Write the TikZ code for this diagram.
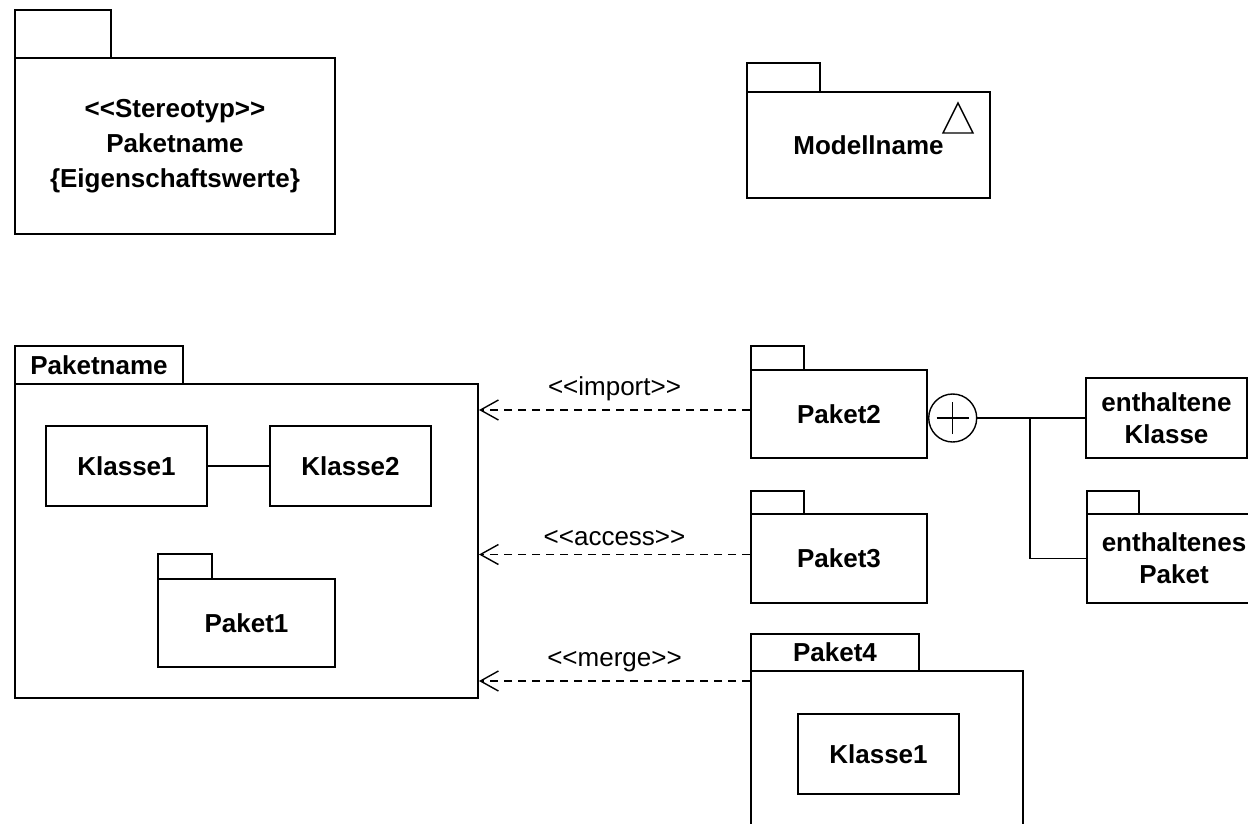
\documentclass[tikz,border=0pt]{standalone}
\usepackage{fontspec}
\setmainfont{Liberation Sans}
\usetikzlibrary{arrows.meta}

\begin{document}
\begin{tikzpicture}[x=0.5pt,y=-0.5pt,
  box/.style={draw,line width=1pt,anchor=north west,inner sep=0pt,align=center,
    font=\fontsize{13}{17.5}\selectfont\bfseries},
  dep/.style={line width=0.7pt,dash pattern=on 4pt off 3pt,
    -{Straight Barb[length=9pt,width=10pt,line width=0.7pt]}},
  lbl/.style={midway,above=2pt,inner sep=2pt,font=\fontsize{13}{15}\selectfont}]
	\useasboundingbox (0,0) rectangle (1248,824);
	\clip (0,0) rectangle (1248,824);
	% Paket mit Stereotyp
	\node[box,minimum width=48pt,minimum height=24pt] (sttab) at (14,9) {};
	\node[box,minimum width=160pt,minimum height=88pt] (stereo) at (14,57)
	  {<{}<Stereotyp>{}>\\Paketname\\\{Eigenschaftswerte\}};
	% Modell
	\node[box,minimum width=36.5pt,minimum height=14.5pt] (mtab) at (746,62) {};
	\node[box,minimum width=121.5pt,minimum height=53pt] (modell) at (746,91) {Modellname};
	\draw[line width=0.7pt] (958,103) -- (943,133) -- (973,133) -- cycle;
	% Paketname mit Inhalt
	\node[box,minimum width=84pt,minimum height=19pt] (pntab) at (14,345) {Paketname};
	\node[box,minimum width=231.5pt,minimum height=157pt] (pn) at (14,383) {};
	\node[box,minimum width=80.5pt,minimum height=40pt] (kl1) at (45,425) {Klasse1};
	\node[box,minimum width=80.5pt,minimum height=40pt] (kl2) at (269,425) {Klasse2};
	\draw[line width=1pt] (kl1) -- (kl2);
	\node[box,minimum width=27pt,minimum height=12.5pt] (p1tab) at (157,553) {};
	\node[box,minimum width=88.5pt,minimum height=44pt] (p1) at (157,578) {Paket1};
	% Paket2, Paket3, Paket4
	\node[box,minimum width=26.5pt,minimum height=12pt] (p2tab) at (750,345) {};
	\node[box,minimum width=88pt,minimum height=44pt] (p2) at (750,369) {Paket2};
	\node[box,minimum width=26.5pt,minimum height=11.5pt] (p3tab) at (750,490) {};
	\node[box,minimum width=88pt,minimum height=44.5pt] (p3) at (750,513) {Paket3};
	\node[box,minimum width=84pt,minimum height=18.5pt] (p4tab) at (750,633) {Paket4};
	\node[box,minimum width=136pt,minimum height=90pt] (p4) at (750,670) {};
	\node[box,minimum width=80.5pt,minimum height=40pt] (kl4) at (797,713) {Klasse1};
	% Abhaengigkeiten
	\draw[dep] ([yshift=2pt]p2.west) -- ([yshift=2pt]pn.east |- p2.west)
	  node[lbl]{<{}<import>{}>};
	\draw[dep] ([yshift=2pt]p3.west) -- ([yshift=2pt]pn.east |- p3.west)
	  node[lbl]{<{}<access>{}>};
	\draw[dep] ([yshift=-5.5pt]p4.north west) -- ([yshift=-5.5pt]pn.east |- p4.north west)
	  node[lbl]{<{}<merge>{}>};
	% Enthaltensein
	\node[draw,circle,line width=0.7pt,minimum size=24pt,inner sep=0pt,anchor=west] (plus)
	  at ([yshift=-2pt]p2.east) {};
	\draw[line width=0.7pt] ([xshift=-8pt]plus.center) -- ([xshift=8pt]plus.center);
	\draw[line width=0.7pt] ([yshift=-8pt]plus.center) -- ([yshift=8pt]plus.center);
	\node[box,minimum width=80.5pt,minimum height=40pt] (ekl) at (1085,377)
	  {enthaltene\\[-1.5pt]Klasse};
	\node[box,minimum width=26pt,minimum height=11.5pt] (eptab) at (1086,490) {};
	\node[box,minimum width=87pt,minimum height=44.5pt] (ep) at (1086,513)
	  {enthaltenes\\[-1.5pt]Paket};
	\coordinate (jn) at (1030,417);
	\draw[line width=1pt] (plus.east) -- (plus.east -| ekl.west);
	\draw[line width=0.7pt] (jn) |- (ep.west);
\end{tikzpicture}
\end{document}
